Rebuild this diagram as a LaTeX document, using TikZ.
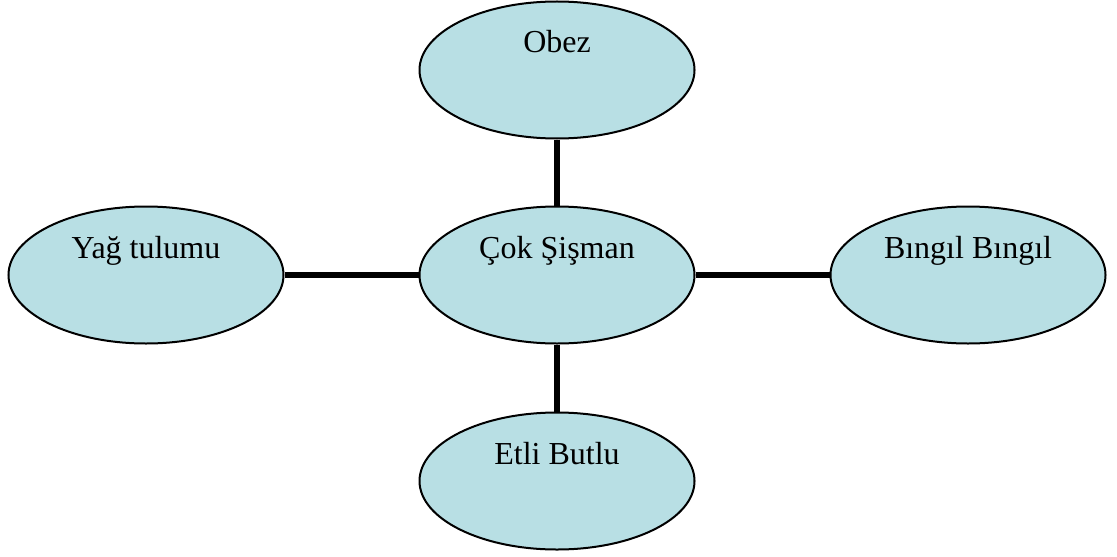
\documentclass[tikz,border=0pt]{standalone}
\usepackage{fontspec}
\setmainfont{Liberation Serif}
\usetikzlibrary{shapes.geometric}
\definecolor{corbalao}{RGB}{184,223,228}

\begin{document}
\begin{tikzpicture}[x=0.5pt, y=-0.5pt,
  balao/.style={ellipse, draw=black, line width=1pt, fill=corbalao,
    minimum width=137.5pt, minimum height=68.5pt, inner sep=0pt,
    font=\fontsize{16}{19}\selectfont, text height=11pt, text depth=28pt},
  ligacao/.style={line width=3pt}]
  \useasboundingbox (0,0) rectangle (1117,556);
  % baloes
  \node[balao] (obez) at (557,70)  {Obez};
  \node[balao] (cok)  at (557,275) {Çok Şişman};
  \node[balao] (yag)  at (146,275) {Yağ tulumu};
  \node[balao] (bin)  at (968,275) {Bıngıl Bıngıl};
  \node[balao] (etli) at (557,481) {Etli Butlu};
  % ligacoes ao centro
  \draw[ligacao] (obez) -- (cok);
  \draw[ligacao] (yag) -- (cok);
  \draw[ligacao] (cok) -- (bin);
  \draw[ligacao] (cok) -- (etli);
\end{tikzpicture}
\end{document}
